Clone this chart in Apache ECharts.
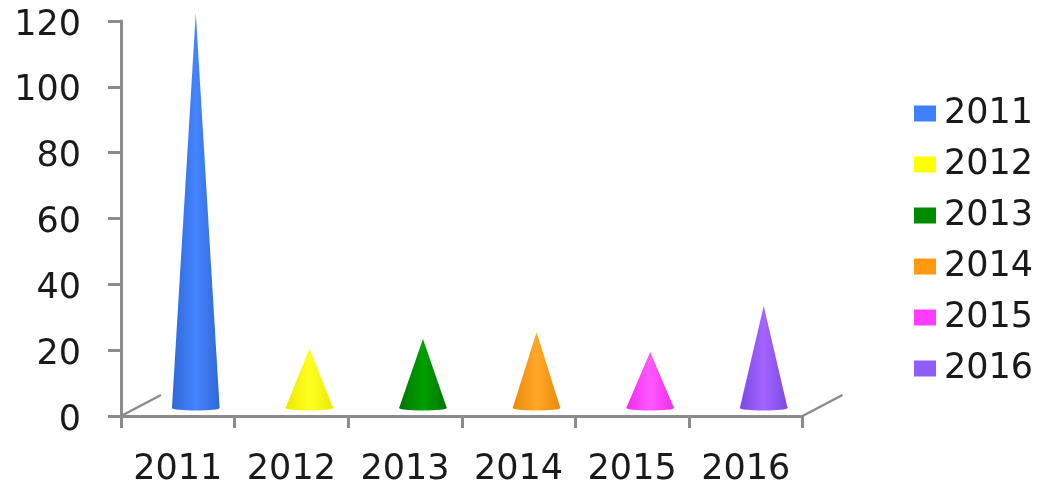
<!DOCTYPE html>
<html>
<head>
<meta charset="utf-8">
<style>html,body{margin:0;padding:0;background:#fff}#c{width:1046px;height:482px}</style>
<script src="https://cdn.jsdelivr.net/npm/echarts@6/dist/echarts.min.js"></script>
</head>
<body>
<div id="c"></div>
<script>
var categories = ['2011','2012','2013','2014','2015','2016'];
var values = [120, 18, 21, 23, 17, 31];
var yTicks = {min: 0, max: 120, interval: 20};
var baseColors = ['#4080ff','#ffff00','#008a00','#ff9a10','#ff3cff','#8f5cf5'];
var edgeColors = ['#3068d8','#ecea00','#007400','#ec8a08','#ee2cee','#7c48e4'];
var lightColors = ['#4484ff','#ffff20','#00a000','#ffa828','#ff58ff','#a464ff'];
var depthX = 18, depthY = 8, floorDX = 40, floorDY = 21;
var font = 'DejaVu Sans';

function coneItem(idx) {
  return function (params, api) {
    var i = api.value(0), v = api.value(1);
    var base = api.coord([i, 0]), tip = api.coord([i, v]);
    var half = api.size([1, 0])[0] * 0.21;
    var cx = base[0] + depthX, by = base[1] - depthY, ty = tip[1] - depthY;
    var fill = new echarts.graphic.LinearGradient(0, 0, 1, 0, [
      {offset: 0, color: edgeColors[idx]},
      {offset: 0.5, color: lightColors[idx]},
      {offset: 1, color: edgeColors[idx]}
    ]);
    return {
      type: 'group',
      children: [
        {type: 'ellipse', shape: {cx: cx, cy: by, rx: half, ry: 2.5}, style: {fill: fill}},
        {type: 'polygon', shape: {points: [[cx, ty], [cx + half, by], [cx - half, by]]}, style: {fill: fill}}
      ]
    };
  };
}

var series = categories.map(function (name, idx) {
  return {
    type: 'custom',
    name: name,
    color: baseColors[idx],
    itemStyle: {color: baseColors[idx]},
    encode: {x: 0, y: 1},
    data: [[idx, values[idx]]],
    renderItem: coneItem(idx),
    clip: false,
    silent: true
  };
});
series.push({
  type: 'custom',
  name: 'floor',
  encode: {x: 0, y: 1},
  data: [[0, 0, -1], [categories.length - 1, 0, 1]],
  clip: false,
  silent: true,
  renderItem: function (params, api) {
    var p = api.coord([api.value(0), 0]);
    var x = p[0] + api.value(2) * api.size([1, 0])[0] / 2;
    return {
      type: 'line',
      shape: {x1: x, y1: p[1], x2: x + floorDX, y2: p[1] - floorDY},
      style: {stroke: '#8c8c8c', lineWidth: 2.5}
    };
  }
});

var chart = echarts.init(document.getElementById('c'), null, {renderer: 'canvas'});
chart.setOption({
  animation: false,
  backgroundColor: '#fff',
  grid: {left: 121, right: 243.5, top: 21, bottom: 66, containLabel: false, outerBoundsMode: 'none'},
  legend: {
    data: categories,
    orient: 'vertical',
    left: 914,
    top: 96,
    padding: 0,
    itemWidth: 22,
    itemHeight: 16,
    itemGap: 16,
    icon: 'rect',
    selectedMode: false,
    textStyle: {fontFamily: font, fontSize: 35, color: '#1a1a1a', padding: [0, 0, 0, 3]}
  },
  xAxis: {
    type: 'category',
    data: categories,
    boundaryGap: true,
    axisLine: {lineStyle: {color: '#8c8c8c', width: 3}},
    axisTick: {show: true, alignWithLabel: false, length: 12, lineStyle: {color: '#8c8c8c', width: 3}},
    axisLabel: {fontFamily: font, fontSize: 35, color: '#1a1a1a', margin: 36, interval: 0, hideOverlap: false}
  },
  yAxis: {
    type: 'value',
    min: yTicks.min,
    max: yTicks.max,
    interval: yTicks.interval,
    splitLine: {show: false},
    axisLine: {show: true, lineStyle: {color: '#8c8c8c', width: 3}},
    axisTick: {show: true, length: 13, lineStyle: {color: '#8c8c8c', width: 3}},
    axisLabel: {
      margin: 40,
      formatter: '{n|{value}}',
      rich: {n: {fontFamily: font, fontSize: 35, color: '#1a1a1a', padding: [9, 0, 0, 0]}}
    }
  },
  series: series
});
</script>
</body>
</html>
